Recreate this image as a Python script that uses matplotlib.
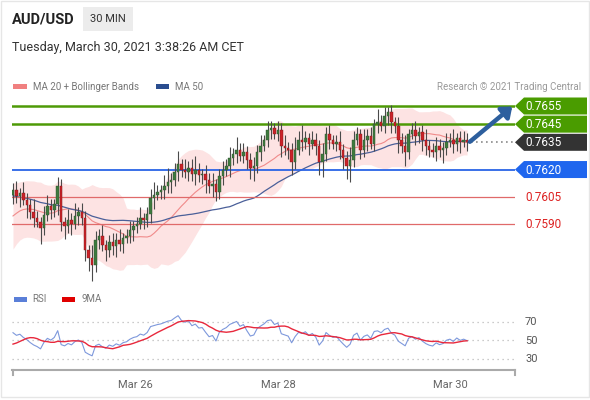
import numpy as np
import pandas as pd
import matplotlib
matplotlib.use("Agg")
import matplotlib.pyplot as plt
from matplotlib.patches import Rectangle, Polygon

plt.rcParams['font.family'] = ['Roboto', 'DejaVu Sans']

# ---------------- data ----------------
title = "AUD/USD"
timeframe = "30 MIN"
timestamp = "Tuesday, March 30, 2021 3:38:26 AM CET"

# closes before the visible window (only used to warm up the indicators)
history_closes = [0.7626, 0.7622, 0.7628, 0.7619, 0.7615, 0.7621, 0.7617, 0.7624, 0.7620, 0.7613,
                  0.7618, 0.7623, 0.7616, 0.7612, 0.7619, 0.7614, 0.7621, 0.7617, 0.7611, 0.7615,
                  0.7618, 0.7614, 0.7620, 0.7612, 0.7608, 0.7611, 0.7604, 0.7598, 0.7592, 0.7586,
                  0.7578, 0.7576, 0.7581, 0.7588, 0.7594, 0.7599, 0.7597, 0.7603, 0.7600, 0.7606,
                  0.7604, 0.7599, 0.7595, 0.7589, 0.7585, 0.7581, 0.7586, 0.7592, 0.7599, 0.7606]

closes = [
    0.76087, 0.76054, 0.76071, 0.76032, 0.76005, 0.75966, 0.75933, 0.75911, 0.75878, 0.75949,
    0.75999, 0.75977, 0.76010, 0.76109, 0.75911, 0.75889, 0.75922, 0.75900, 0.75944, 0.75966,
    0.75933, 0.75757, 0.75712, 0.75674, 0.75812, 0.75834, 0.75784, 0.75757, 0.75801, 0.75779,
    0.75812, 0.75790, 0.75823, 0.75834, 0.75867, 0.75889, 0.75900, 0.75933, 0.75922, 0.75955,
    0.76043, 0.76060, 0.76076, 0.76087, 0.76109, 0.76131, 0.76142, 0.76186, 0.76230, 0.76197,
    0.76186, 0.76208, 0.76175, 0.76197, 0.76170, 0.76175, 0.76142, 0.76109, 0.76120, 0.76076,
    0.76164, 0.76197, 0.76219, 0.76263, 0.76286, 0.76308, 0.76275, 0.76297, 0.76252, 0.76208,
    0.76219, 0.76297, 0.76330, 0.76363, 0.76418, 0.76429, 0.76396, 0.76418, 0.76330, 0.76319,
    0.76308, 0.76241, 0.76308, 0.76363, 0.76352, 0.76374, 0.76341, 0.76363, 0.76330, 0.76241,
    0.76286, 0.76396, 0.76363, 0.76341, 0.76352, 0.76308, 0.76263, 0.76219, 0.76252, 0.76363,
    0.76396, 0.76308, 0.76363, 0.76385, 0.76341, 0.76451, 0.76462, 0.76440, 0.76495, 0.76517,
    0.76462, 0.76440, 0.76363, 0.76330, 0.76297, 0.76396, 0.76418, 0.76385, 0.76407, 0.76363,
    0.76330, 0.76308, 0.76297, 0.76330, 0.76308, 0.76319, 0.76352, 0.76363, 0.76341, 0.76374,
    0.76352, 0.76363, 0.76350]

# wick lengths in pips
upper_wicks = [4,5,3,6,4,3,7,4,3,5, 6,4,3,5,4,3,6,4,7,3, 5,4,3,7,5,4,6,3,4,5,
               4,6,3,4,5,3,4,6,3,4, 5,7,4,3,6,8,4,5,7,3, 6,4,5,8,4,3,5,4,6,3,
               4,5,4,6,3,7,4,5,3,4, 5,4,6,3,5,4,3,5,4,6, 3,4,7,5,8,4,3,5,4,3,
               6,4,5,3,4,6,3,4,7,5, 4,3,6,4,5,3,7,4,5,3, 4,3,5,4,6,3,4,5,3,4,
               6,3,4,5,4,3,5,4,6,3, 4,5,4]
lower_wicks = [5,4,6,3,7,4,5,3,9,4, 3,5,4,6,5,7,4,6,3,5, 4,6,7,9,4,5,3,6,4,5,
               6,4,5,3,4,6,4,3,5,4, 5,6,3,4,5,4,6,3,5,4, 3,5,4,6,4,5,7,4,6,5,
               4,5,3,6,4,5,3,4,5,6, 7,4,5,3,4,5,3,4,6,4, 5,7,4,3,5,4,6,3,5,7,
               8,4,5,3,4,5,6,7,9,4, 3,5,4,6,3,4,5,3,4,5, 6,4,7,4,8,4,3,5,4,6,
               5,4,3,5,4,7,4,3,5,4, 6,3,5]

resistance_levels = [0.7655, 0.7645]
current_level = 0.7635
pivot_level = 0.7620
support_levels = [0.7605, 0.7590]

date_labels = ["Mar 26", "Mar 28", "Mar 30"]
date_positions = [35.5, 77, 127]
rsi_levels = [70, 50, 30]

# ---------------- derived series ----------------
pip = 0.0001
n_hist = len(history_closes)
all_close = pd.Series(history_closes + closes)
ma20_all = all_close.rolling(20, min_periods=1).mean()
sd20_all = all_close.rolling(20, min_periods=2).std(ddof=0).fillna(0)
ma50_all = all_close.rolling(50, min_periods=1).mean()
delta = all_close.diff().fillna(0)
gain = delta.clip(lower=0).ewm(alpha=1/14, adjust=False).mean()
loss = (-delta.clip(upper=0)).ewm(alpha=1/14, adjust=False).mean()
rsi_all = 100 - 100 / (1 + gain / loss.replace(0, np.nan))
rsi_all = rsi_all.fillna(50)
rsi_ma_all = rsi_all.rolling(9, min_periods=1).mean()

c = np.array(closes)
o = np.array(all_close.shift(1).iloc[n_hist:])
hi = np.maximum(o, c) + np.array(upper_wicks) * pip
lo = np.minimum(o, c) - np.array(lower_wicks) * pip
ma20 = ma20_all.iloc[n_hist:].values
sd20 = sd20_all.iloc[n_hist:].values
ma50 = ma50_all.iloc[n_hist:].values
rsi = rsi_all.iloc[n_hist:].values
rsi_ma = rsi_ma_all.iloc[n_hist:].values
idx = np.arange(len(c))

# ---------------- figure ----------------
W, H = 590, 400
fig = plt.figure(figsize=(W / 100, H / 100), dpi=100)
fig.patch.set_facecolor('white')

ov = fig.add_axes([0, 0, 1, 1], zorder=0)
ov.set_xlim(0, W)
ov.set_ylim(H, 0)
ov.axis('off')

def fr(x0, y0, x1, y1):
    return [x0 / W, 1 - y1 / H, (x1 - x0) / W, (y1 - y0) / H]

# pixel geometry of the plot areas
PX_L, PX_R = 12, 515
STEP = 3.44
x_lo = (PX_L - 13) / STEP
x_hi = (PX_R - 13) / STEP
ppx = 118 / 0.0065  # pixels per price unit
def price_at(y):
    return 0.7655 - (y - 106) / ppx

ax = fig.add_axes(fr(PX_L, 95, PX_R, 290), zorder=2)
ax.set_facecolor('none')
ax.set_xlim(x_lo, x_hi)
ax.set_ylim(price_at(290), price_at(95))
ax.axis('off')

# Bollinger band + MAs
ax.fill_between(idx, ma20 - 2 * sd20, ma20 + 2 * sd20, color='#fde3e3', lw=0, zorder=1)
ax.plot(idx, ma20, color='#f08a8a', lw=0.8, zorder=2)
ax.plot(idx, ma50, color='#4a5f99', lw=0.9, zorder=2)

# levels
for lv in resistance_levels:
    ax.axhline(lv, color='#4e9a06', lw=1.8, zorder=3)
ax.axhline(pivot_level, color='#2a64e6', lw=1.3, zorder=3)
for lv in support_levels:
    ax.axhline(lv, color='#e06a6a', lw=0.9, zorder=3)

# candles
up = c >= o
body_lo = np.minimum(o, c)
body_h = np.maximum(np.abs(c - o), 0.00002)
ax.vlines(idx, lo, hi, color='#4a4a4a', lw=0.8, zorder=4)
ax.bar(idx[up], body_h[up], bottom=body_lo[up], width=0.72, color='#3e7a3e',
       edgecolor='#2f4f2f', lw=0.3, zorder=5)
ax.bar(idx[~up], body_h[~up], bottom=body_lo[~up], width=0.72, color='#cc2229',
       edgecolor='#7a1a1a', lw=0.3, zorder=5)

# current price dotted line
ax.hlines(current_level, idx[-1] + 1.2, x_hi, color='#8a8a8a', lw=1.2,
          linestyles=(0, (1, 2)), zorder=3)

# arrow to target
ax.annotate('', xy=(x_hi - 0.8, resistance_levels[0] - 0.00003),
            xytext=(idx[-1] + 0.8, c[-1] + 0.00003),
            arrowprops=dict(arrowstyle='-|>,head_length=0.55,head_width=0.45',
                            color='#2d5f9e', lw=3.2, shrinkA=0, shrinkB=0),
            annotation_clip=False, zorder=6)

# right-hand level labels
fig.canvas.draw()
def ypx(v):
    return H - ax.transData.transform((0, v))[1]

def tag(v, face):
    y = ypx(v)
    pts = [(515, y), (524, y - 8.5), (587, y - 8.5), (587, y + 8.5), (524, y + 8.5)]
    ov.add_patch(Polygon(pts, closed=True, facecolor=face, edgecolor='none'))
    ov.text(525, y + 0.5, f"{v:.4f}", color='white', fontsize=8.5, va='center', ha='left')

for lv in resistance_levels:
    tag(lv, '#4a9c00')
tag(current_level, '#333333')
tag(pivot_level, '#1f66ee')
for lv in support_levels:
    ov.text(525, ypx(lv) + 0.5, f"{lv:.4f}", color='#dd2222', fontsize=8.5, va='center', ha='left')

# RSI panel
rax = fig.add_axes(fr(PX_L, 310, PX_R, 370), zorder=2)
rax.set_facecolor('none')
rax.set_xlim(x_lo, x_hi)
rax.set_ylim(50 - 30 / 0.925, 50 + 30 / 0.925)
for lv in rsi_levels:
    rax.axhline(lv, color='#bbbbbb', lw=0.9, linestyle=(0, (1, 3)))
rax.plot(idx, rsi, color='#7d98dc', lw=0.8)
rax.plot(idx, rsi_ma, color='#e8283c', lw=1.0)
for s in ['top', 'right', 'left']:
    rax.spines[s].set_visible(False)
rax.spines['bottom'].set_color('#aaaaaa')
rax.spines['bottom'].set_linewidth(1.5)
rax.set_yticks([])
rax.set_xticks(date_positions)
rax.set_xticklabels(date_labels, fontsize=8, color='#666666')
rax.tick_params(axis='x', length=0, pad=7)
# end ticks of the time axis
ov.plot([12.5, 12.5], [370, 375], color='#aaaaaa', lw=1.5)
ov.plot([515, 515], [370, 375], color='#aaaaaa', lw=1.5)

fig.canvas.draw()
for lv in rsi_levels:
    y = H - rax.transData.transform((0, lv))[1]
    ov.text(525, y + 0.5, str(lv), color='#555555', fontsize=8, va='center', ha='left')

# header
ov.text(12, 19.5, title, fontsize=10.5, weight='bold', color='#222222', va='center')
ov.add_patch(Rectangle((83, 7), 50, 24, facecolor='#ececec', edgecolor='none'))
ov.text(108, 19.5, timeframe, fontsize=8, color='#333333', va='center', ha='center')
ov.text(12, 48, timestamp, fontsize=9, color='#333333', va='center')

# legends
ov.add_patch(Rectangle((13, 84), 14, 4.5, facecolor='#f08080', edgecolor='none'))
ov.text(33, 86.5, "MA 20 + Bollinger Bands", fontsize=7, color='#777777', va='center')
ov.add_patch(Rectangle((156, 84), 13, 4.5, facecolor='#2a4d8f', edgecolor='none'))
ov.text(175, 86.5, "MA 50", fontsize=7, color='#777777', va='center')
ov.text(581, 86.5, "Research \u00a9 2021 Trading Central", fontsize=7, color='#999999',
        va='center', ha='right')
ov.add_patch(Rectangle((14, 297), 13, 4.5, facecolor='#5a7fd8', edgecolor='none'))
ov.text(32, 299.5, "RSI", fontsize=7, color='#777777', va='center')
ov.add_patch(Rectangle((62, 297), 13, 4.5, facecolor='#e00000', edgecolor='none'))
ov.text(81, 299.5, "9MA", fontsize=7, color='#777777', va='center')

# frame
ov.add_patch(Rectangle((0.5, 0.5), 588, 396, facecolor='none', edgecolor='#e6e6e6', lw=1))

fig.savefig('out.png', dpi=100)
